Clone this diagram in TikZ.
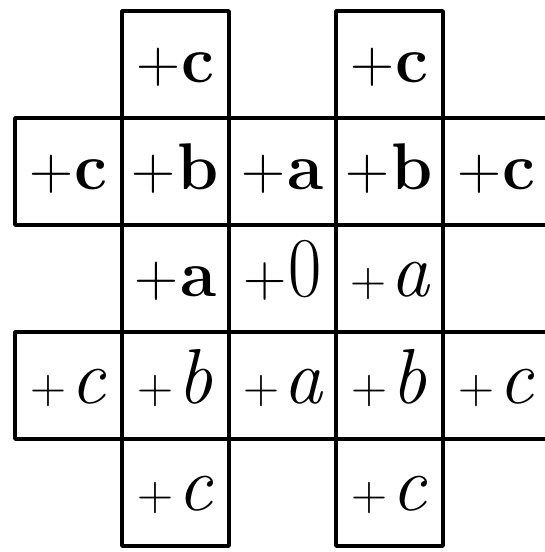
\documentclass[tikz,border=0pt]{standalone}
\usepackage{fontspec}
\newcommand\bcell[1]{{\fontsize{61}{64}\selectfont+}\kern2pt{\fontsize{66}{70}\selectfont\bfseries #1}}
\newcommand\icell[1]{{\fontsize{50}{54}\selectfont+}\kern4pt{\fontsize{78}{80}\selectfont\itshape #1}}
\newcommand\zcell{{\fontsize{60}{64}\selectfont+}\kern2pt{\fontsize{85}{90}\selectfont\scalebox{0.85}[1]{0}}}
\tikzset{
  cell/.style={draw, line width=3.8pt, line join=round, rectangle, inner sep=0pt, outer sep=0pt,
    minimum width=107pt, minimum height=107pt, text height=50pt, text depth=15pt, align=center}
}
\begin{document}
\begin{tikzpicture}[x=1pt,y=-1pt]
\useasboundingbox[fill=white] (0,0) rectangle (545,552);
% row 0
\node[cell] (r0c1) at (175.5,64.5) {\bcell{c}};
\node[cell] (r0c3) at (389.5,64.5) {\bcell{c}};
% row 1
\node[cell] (r1c0) at (68.5,171.5) {\bcell{c}};
\node[cell] (r1c1) at (175.5,171.5) {\bcell{b}};
\node[cell] (r1c2) at (282.5,171.5) {\bcell{a}};
\node[cell] (r1c3) at (389.5,171.5) {\bcell{b}};
\node[cell] (r1c4) at (496.5,171.5) {\bcell{c}};
% row 2
\node[cell] (r2c1) at (175.5,278.5) {\bcell{a}};
\node[cell] (r2c2) at (282.5,278.5) {\zcell};
\node[cell] (r2c3) at (389.5,278.5) {\icell{a}};
% row 3
\node[cell] (r3c0) at (68.5,385.5) {\icell{c}};
\node[cell] (r3c1) at (175.5,385.5) {\icell{b}};
\node[cell] (r3c2) at (282.5,385.5) {\icell{a}};
\node[cell] (r3c3) at (389.5,385.5) {\icell{b}};
\node[cell] (r3c4) at (496.5,385.5) {\icell{c}};
% row 4
\node[cell] (r4c1) at (175.5,492.5) {\icell{c}};
\node[cell] (r4c3) at (389.5,492.5) {\icell{c}};
\end{tikzpicture}
\end{document}
